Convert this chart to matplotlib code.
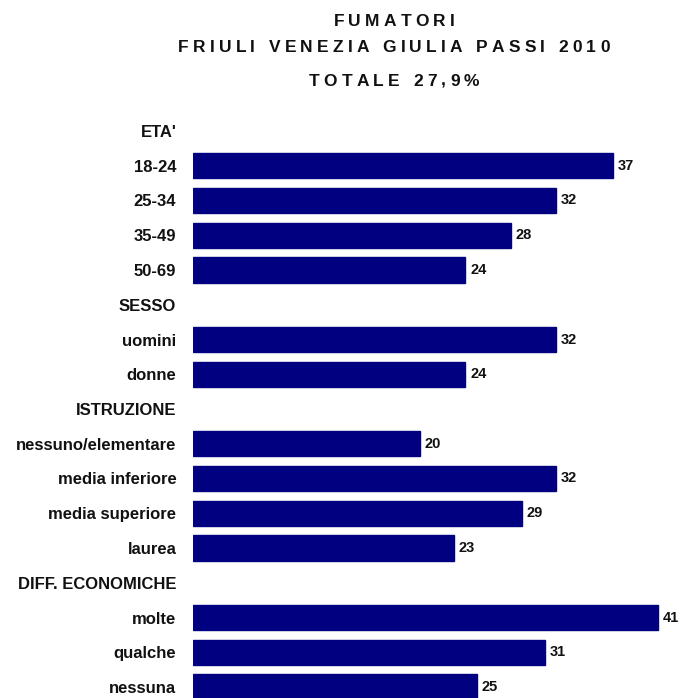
import matplotlib
matplotlib.use("Agg")
import matplotlib.pyplot as plt
from matplotlib.font_manager import FontProperties

# data (None = section header, no bar)
labels = ["ETA'", "18-24", "25-34", "35-49", "50-69",
          "SESSO", "uomini", "donne",
          "ISTRUZIONE", "nessuno/elementare", "media inferiore", "media superiore", "laurea",
          "DIFF. ECONOMICHE", "molte", "qualche", "nessuna"]
values = [None, 37, 32, 28, 24,
          None, 32, 24,
          None, 20, 32, 29, 23,
          None, 41, 31, 25]
title_lines = ["FUMATORI", "FRIULI VENEZIA GIULIA PASSI 2010", "TOTALE 27,9%"]

W, H = 683, 698
fig = plt.figure(figsize=(W / 100, H / 100), dpi=100)
fig.patch.set_facecolor("white")

bar_col = "#000080"
row_gap = 34.75
first_row = 131
top_px = 110

ax = fig.add_axes([193 / W, 0, 490 / W, (H - top_px) / H])
ypos = list(range(len(labels)))
for y, v in zip(ypos, values):
    if v is None:
        continue
    ax.barh(y, v, height=0.72, color=bar_col, edgecolor=bar_col)
    ax.text(v + 0.45, y, str(v), va="center", ha="left",
            fontsize=10.5, fontweight="bold", family="Liberation Sans", color="#111111")

ax.set_xlim(0, 490 / 11.34)
ax.set_ylim((H - first_row) / row_gap, -(first_row - top_px) / row_gap)
ax.set_yticks(ypos)
ax.set_yticklabels(labels, fontsize=12, fontweight="bold", family="Liberation Sans",
                   color="#111111")
ax.tick_params(axis="y", length=0, pad=12)
ax.set_xticks([])
for s in ax.spines.values():
    s.set_visible(False)

# title with wide letter spacing, placed char by char
fp = FontProperties(family="Liberation Sans", weight="bold", size=12.5)
renderer = fig.canvas.get_renderer()
track = 4.2
title_y = [21, 48, 81]
for line, yc in zip(title_lines, title_y):
    widths = []
    for ch in line:
        w, h, d = renderer.get_text_width_height_descent(ch if ch != " " else "a", fp, ismath=False)
        if ch == " ":
            w = w * 0.55
        widths.append(w)
    total = sum(widths) + track * (len(line) - 1)
    x = 394 - total / 2
    for ch, w in zip(line, widths):
        if ch != " ":
            fig.text(x / W, 1 - yc / H, ch, fontproperties=fp, ha="left", va="center",
                     color="#111111")
        x += w + track

fig.savefig("out.png", dpi=100, facecolor="white")
